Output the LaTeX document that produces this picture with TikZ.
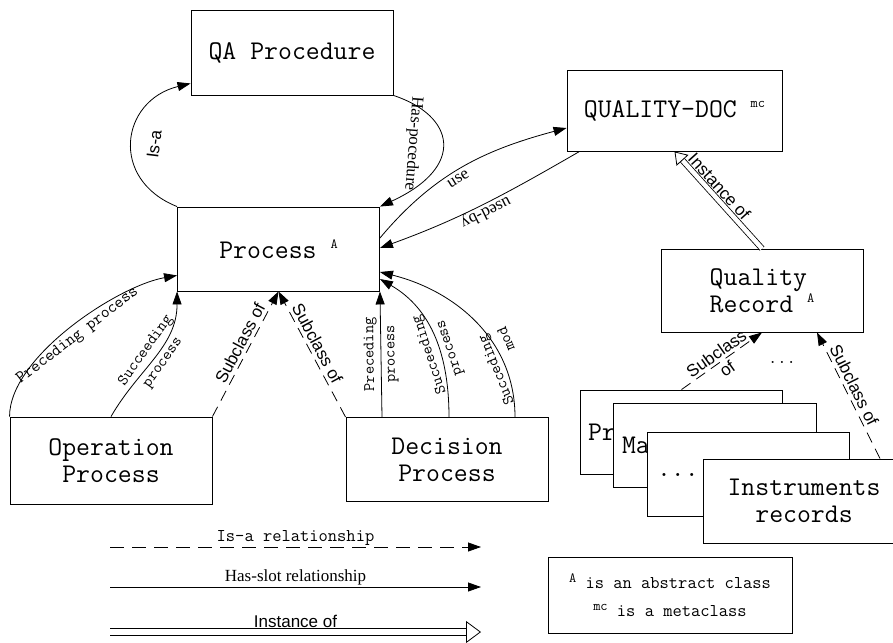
\documentclass[tikz,border=0pt]{standalone}
\usepackage{fontspec}
\newfontfamily\arialfont{Liberation Sans}
\newfontfamily\timesfont{Liberation Serif}
\usetikzlibrary{arrows.meta}
\newcommand{\classtag}[1]{\raisebox{0.35em}{\fontsize{14}{14}\selectfont #1}}

\begin{document}
\begin{tikzpicture}[
    x=1pt, y=1pt,
    box/.style={%
      draw,
      rectangle,
      fill=white,
      line width=0.9pt,
      minimum width=202pt,
      minimum height=84pt,
      inner sep=0pt,
      align=center,
      font=\ttfamily\fontsize{27}{27}\selectfont,
    },
    slot/.style={-{Triangle[length=13pt,width=9pt]}, line width=0.8pt},
    isa/.style={slot, dash pattern=on 11pt off 7pt},
    inst/.style={double=white, double distance=4.5pt, line width=0.8pt,
      -{Triangle[open,length=12pt,width=16pt]}},
    monolbl/.style={font=\ttfamily\fontsize{16}{21}\selectfont, align=center},
    sanslbl/.style={font=\arialfont\fontsize{17}{19}\selectfont, align=center},
    seriflbl/.style={font=\timesfont\fontsize{17}{19}\selectfont},
  ]
    \useasboundingbox (0,0) rectangle (893,-642);

    % classes
    \node [box, minimum height=85pt] (qa) at (292,-52.5) {QA Procedure};
    \node [box] (proc) at (278.5,-249) {Process \classtag{A}};
    \node [box, minimum width=215pt, minimum height=81pt] (qdoc) at (674.5,-110.5) {QUALITY-DOC \classtag{mc}};
    \node [box, minimum height=83pt, align=left] (qrec) at (762,-290.5) {Quality\\Record \classtag{A}};
    \node [box, minimum height=87pt] (oper) at (111,-460.5) {Operation\\Process};
    \node [box] (deci) at (447,-459.5) {Decision\\Process};

    % stack of records
    \node [box, text width=187pt, inner xsep=7pt, align=left] (rec1) at (681.5,-432) {Pr};
    \node [box, text width=185pt, inner xsep=9pt, align=left] (rec2) at (714.5,-445.5) {Ma};
    \node [box, text width=182pt, inner xsep=10pt, align=left] (rec3) at (748,-474.5) {...};
    \node [box] (rec4) at (804,-501) {Instruments\\records};

    \node [box, minimum width=244pt, minimum height=76pt,
      font=\ttfamily\fontsize{18}{28}\selectfont] (note) at (670,-595)
      {\classtag{A} is an abstract class\\\classtag{mc} is a metaclass};

    % relations around Process
    \draw [slot] (proc.north west) .. controls +(-68,27) and +(-70,-17) .. ([yshift=12pt]qa.south west)
      node [sanslbl, pos=0.5, sloped, allow upside down, below, inner sep=16pt] {Is-a};
    \draw [slot] (qa.south east) .. controls +(61,-20) and +(87,40) .. (proc.north east)
      node [seriflbl, pos=0.52, sloped, allow upside down, below, inner sep=21pt] {Has-pocedure};
    \draw [slot] ([yshift=11pt]proc.east) to [out=50, in=195]
      node [seriflbl, pos=0.45, sloped, below] {use} ([yshift=-17.5pt]qdoc.west);
    \draw [slot] ([xshift=13pt]qdoc.south west) to [out=210, in=20]
      node [seriflbl, pos=0.5, sloped, allow upside down, above, inner sep=0pt] {used-by} ([yshift=1pt]proc.east);

    \draw [slot] (oper.north west) to [out=90, in=190, looseness=0.7]
      node [monolbl, font=\ttfamily\fontsize{17}{21}\selectfont, pos=0.5, sloped, below] {Preceding process} ([yshift=16pt]proc.south west);
    \draw [slot] (oper.north) to [out=60, in=-90]
      node [monolbl, midway, sloped] {Succeeding\\process} (proc.south west);
    \draw [isa] (oper.north east) -- (proc.south)
      node [sanslbl, pos=0.55, sloped, above] {Subclass of};
    \draw [isa] (deci.north west) -- (proc.south)
      node [sanslbl, pos=0.55, sloped, above] {Subclass of};

    \draw [slot] ([xshift=-65pt]deci.north) -- (proc.south east)
      node [monolbl, midway, sloped, allow upside down] {Preceding\\process};
    \draw [slot] ([xshift=2pt]deci.north) to [out=90, in=330]
      node [monolbl, pos=0.4, sloped, allow upside down] {Succeeding\\process} ([yshift=-30pt]proc.east);
    \draw [slot] ([xshift=68pt]deci.north) to [out=90, in=346]
      node [monolbl, pos=0.24, sloped, allow upside down, align=right] {Succeding\\mod} ([yshift=-23pt]proc.east);

    % quality records
    \draw [inst] (qrec.north) -- (qdoc.south)
      node [sanslbl, pos=0.57, sloped, above] {Instance of};
    \draw [isa] (rec1.north) -- (qrec.south)
      node [sanslbl, midway, sloped] {Subclass\\of};
    \draw [isa] ([xshift=76pt]rec4.north) -- ([xshift=55pt]qrec.south)
      node [sanslbl, pos=0.55, sloped, above] {Subclass of};
    \node [font=\ttfamily\fontsize{18}{20}\selectfont] (more) at (782,-362) {...};

    % legend
    \coordinate (isaA) at (110,-547);
    \coordinate (isaB) at (481,-547);
    \coordinate (slotA) at (110,-587);
    \coordinate (slotB) at (481,-587);
    \coordinate (instA) at (110,-632);
    \coordinate (instB) at (481,-632);

    \draw [isa, dash pattern=on 14pt off 8pt] (isaA) -- (isaB)
      node [monolbl, font=\ttfamily\fontsize{18}{20}\selectfont, midway, above, inner sep=1pt] {Is-a relationship};
    \draw [slot] (slotA) -- (slotB)
      node [seriflbl, midway, above, inner sep=1pt] {Has-slot relationship};
    \draw [inst, double distance=6pt, -{Triangle[open,length=15pt,width=22pt]}] (instA) -- (instB)
      node [sanslbl, midway, above, inner sep=3.5pt] {Instance of};
\end{tikzpicture}
\end{document}
